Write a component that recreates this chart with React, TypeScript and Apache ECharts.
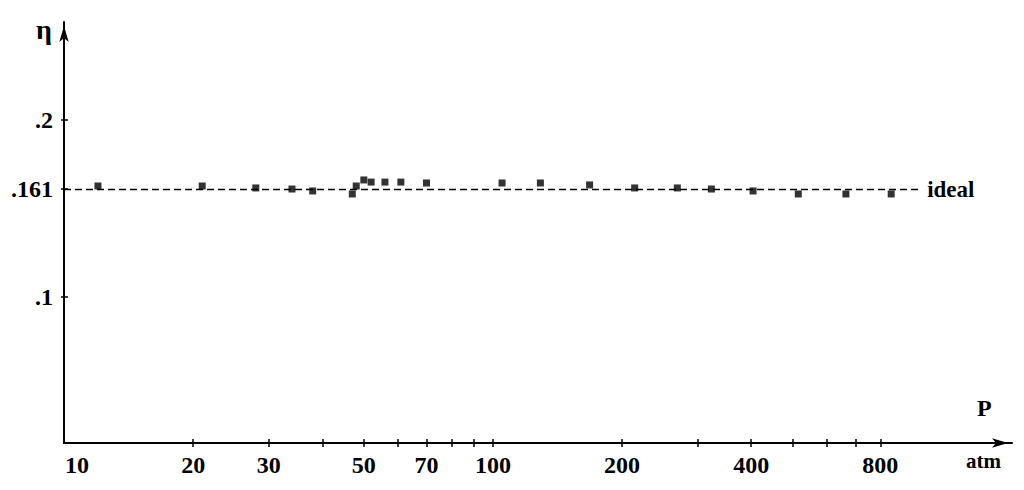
import React, { useEffect, useRef } from "react";
import * as echarts from "echarts";

// Measured data (pressure in atm, eta)
const pressures = [12, 21, 28, 34, 38, 47, 48, 50, 52, 56, 61, 70, 105, 129, 168, 214, 269, 323, 404, 515, 665, 848];
const etaValues = [0.1627, 0.1627, 0.1616, 0.161, 0.1599, 0.1582, 0.1627, 0.1661, 0.1649, 0.1649, 0.1649, 0.1644, 0.1644, 0.1644, 0.1633, 0.1616, 0.1616, 0.161, 0.1599, 0.1582, 0.1582, 0.1582];

const idealEta = 0.161;
const idealLineEndP = 980;

const xTickP = [20, 30, 40, 50, 60, 70, 80, 90, 100, 200, 300, 400, 500, 600, 700, 800];
const xLabelP = [10, 20, 30, 50, 70, 100, 200, 400, 800];
const yTickValues = [0.1, 0.161, 0.2];
const yTickLabels = [".1", ".161", ".2"];

const FONT = "'Liberation Serif', 'DejaVu Serif', serif";
const INK = "#000";

export default function App() {
  const ref = useRef<HTMLDivElement>(null);

  useEffect(() => {
    if (!ref.current) return;
    const chart = echarts.init(ref.current, undefined, { renderer: "svg" });
    const lg = (p: number) => Math.log10(p);
    const xMin = 1;
    const xMax = 3.21;
    const yMin = 0.01774;
    const yMax = 0.2552;

    const xTickVals = xTickP.map(lg);
    const xLabelVals = xLabelP.map(lg);

    const labelStyle = {
      fontFamily: FONT,
      fontWeight: "bold" as const,
      fontSize: 24,
      color: INK,
    };

    chart.setOption({
      animation: false,
      backgroundColor: "#fff",
      grid: { left: 64, right: 12, top: 22, bottom: 47, outerBoundsMode: "none" },
      xAxis: [
        {
          type: "value",
          min: xMin,
          max: xMax,
          position: "bottom",
          splitLine: { show: false },
          axisLine: {
            show: true,
            lineStyle: { color: INK, width: 2 },
            symbol: ["none", "arrow"],
            symbolSize: [7, 16],
            symbolOffset: [0, -4],
          },
          axisTick: {
            show: true,
            customValues: xTickVals,
            length: 4,
            lineStyle: { color: INK, width: 1.5 },
          },
          axisLabel: {
            show: true,
            customValues: xLabelVals,
            margin: 10,
            ...labelStyle,
            formatter: (v: number) => {
              const p = Math.round(Math.pow(10, v));
              return p === 10 ? "{first|10}" : String(p);
            },
            rich: {
              first: { ...labelStyle, padding: [0, 0, 0, 26] },
            },
          },
        },
        {
          type: "value",
          min: xMin,
          max: xMax,
          position: "bottom",
          offset: 0,
          splitLine: { show: false },
          axisLine: { show: false },
          axisTick: {
            show: true,
            inside: true,
            customValues: xTickVals,
            length: 4,
            lineStyle: { color: INK, width: 1.5 },
          },
          axisLabel: { show: false },
        },
      ],
      yAxis: [
        {
          type: "value",
          min: yMin,
          max: yMax,
          position: "left",
          splitLine: { show: false },
          axisLine: {
            show: true,
            lineStyle: { color: INK, width: 2 },
            symbol: ["none", "arrow"],
            symbolSize: [7, 16],
            symbolOffset: [0, -4],
          },
          axisTick: {
            show: true,
            customValues: yTickValues,
            length: 3,
            lineStyle: { color: INK, width: 1.5 },
          },
          axisLabel: {
            show: true,
            customValues: yTickValues,
            margin: 11,
            ...labelStyle,
            formatter: (v: number) => {
              let best = 0;
              yTickValues.forEach((t, i) => {
                if (Math.abs(t - v) < Math.abs(yTickValues[best] - v)) best = i;
              });
              return yTickLabels[best];
            },
          },
        },
        {
          type: "value",
          min: yMin,
          max: yMax,
          position: "left",
          offset: 0,
          splitLine: { show: false },
          axisLine: { show: false },
          axisTick: {
            show: true,
            inside: true,
            customValues: yTickValues,
            length: 4,
            lineStyle: { color: INK, width: 1.5 },
          },
          axisLabel: { show: false },
        },
      ],
      series: [
        {
          type: "scatter",
          xAxisIndex: 0,
          yAxisIndex: 0,
          symbol: "rect",
          symbolSize: 7,
          itemStyle: { color: INK },
          data: pressures.map((p, i) => [lg(p), etaValues[i]]),
          markLine: {
            silent: true,
            symbol: "none",
            animation: false,
            lineStyle: { color: INK, width: 1.3, type: [7, 4] },
            label: {
              show: true,
              position: "end",
              distance: 9,
              formatter: "ideal",
              fontFamily: FONT,
              fontWeight: "bold",
              fontSize: 23,
              color: INK,
            },
            data: [
              [
                { coord: [xMin, idealEta] },
                { coord: [lg(idealLineEndP), idealEta] },
              ],
            ],
          },
        },
      ],
      graphic: [
        {
          type: "text",
          left: 36,
          top: 15,
          style: { text: "η", fontFamily: FONT, fontWeight: "bold", fontSize: 28, fill: INK },
        },
        {
          type: "text",
          left: 977,
          top: 396,
          style: { text: "P", fontFamily: FONT, fontWeight: "bold", fontSize: 24, fill: INK },
        },
        {
          type: "text",
          left: 966,
          top: 450,
          style: { text: "atm", fontFamily: FONT, fontWeight: "bold", fontSize: 21, fill: INK },
        },
      ],
    });
    return () => chart.dispose();
  }, []);

  return (
    <div
      ref={ref}
      style={{ position: "fixed", left: 0, top: 0, width: 1024, height: 490, background: "#fff" }}
    />
  );
}
